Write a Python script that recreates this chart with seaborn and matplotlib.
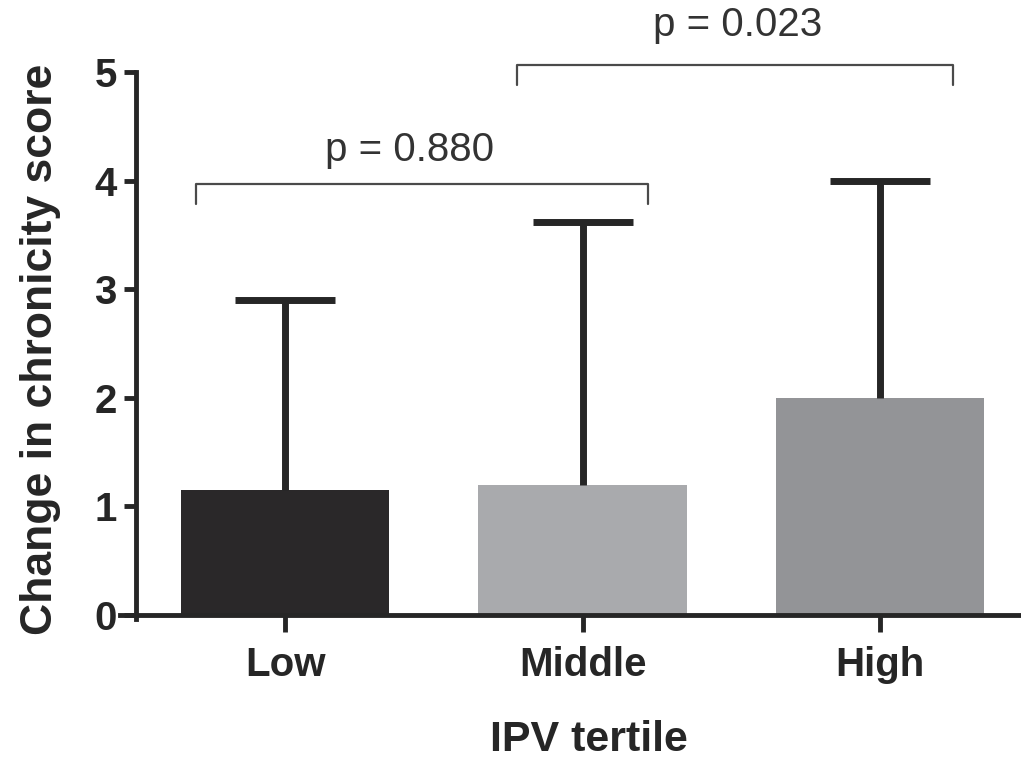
import matplotlib
matplotlib.use("Agg")
import matplotlib.pyplot as plt
import seaborn as sns
import pandas as pd

categories = ["Low", "Middle", "High"]
means = [1.15, 1.20, 2.00]
sds = [1.75, 2.42, 2.00]
bar_colors = ["#2a2829", "#a9aaad", "#939497"]
p_labels = ["p = 0.880", "p = 0.023"]

sns.set_theme(style="white")
plt.rcParams['font.family'] = ['Liberation Sans', 'DejaVu Sans']

df = pd.DataFrame({"tertile": categories, "change": means})

fig = plt.figure(figsize=(10.21, 7.64), dpi=100)
ax = fig.add_axes([120/1021, 1 - 615/764, 1 - 120/1021, (615 - 72)/764])

sns.barplot(data=df, x="tertile", y="change", hue="tertile", palette=bar_colors,
            order=categories, width=0.7, saturation=1, legend=False, ax=ax,
            edgecolor="none", errorbar=None)

xs = [p.get_x() + p.get_width() / 2 for p in ax.patches]
eb = ax.errorbar(xs, means, yerr=[[0]*len(means), sds], fmt="none", ecolor="#262626",
                 elinewidth=5, capsize=36, capthick=5, zorder=3)
# show only the upper caps
caplines = eb[1]
if len(caplines) == 2:
    caplines[0].set_visible(False)

ax.set_xlim(-0.555, 2.474)
ax.set_ylim(0, 5)
ax.set_yticks([0, 1, 2, 3, 4, 5])

for s in ["top", "right"]:
    ax.spines[s].set_visible(False)
ax.spines["left"].set_position(("data", -0.5))
ax.spines["left"].set_bounds(-0.04, 5)
for s in ["left", "bottom"]:
    ax.spines[s].set_linewidth(3.5)
    ax.spines[s].set_color("#262626")

ax.tick_params(axis="y", which="major", left=True, length=9, width=3.5, color="#262626",
               labelsize=29, pad=5, labelcolor="#262626")
ax.tick_params(axis="x", which="major", bottom=True, length=12, width=3.5, color="#262626",
               labelsize=29, pad=10, labelcolor="#262626", direction="out")
for lab in ax.get_xticklabels() + ax.get_yticklabels():
    lab.set_fontweight("bold")

ax.set_xlabel("IPV tertile", fontsize=31, fontweight="bold", color="#262626")
ax.set_ylabel("Change in chronicity score", fontsize=32, fontweight="bold", color="#262626")
ax.xaxis.set_label_coords(0.52, -0.193)
ax.yaxis.set_label_coords(-0.066, 0.49)

# significance brackets
bc = "#4a4a4a"
ax.plot([-0.30, -0.30, 1.22, 1.22], [3.78, 3.97, 3.97, 3.78], color=bc, lw=1.6, clip_on=False)
ax.plot([0.78, 0.78, 2.245, 2.245], [4.88, 5.06, 5.06, 4.88], color=bc, lw=1.6, clip_on=False)
ax.text(0.42, 4.28, p_labels[0], ha="center", va="center", fontsize=29, color="#333333")
ax.text(1.52, 5.43, p_labels[1], ha="center", va="center", fontsize=29, color="#333333", clip_on=False)

fig.savefig("out.png", dpi=100)
